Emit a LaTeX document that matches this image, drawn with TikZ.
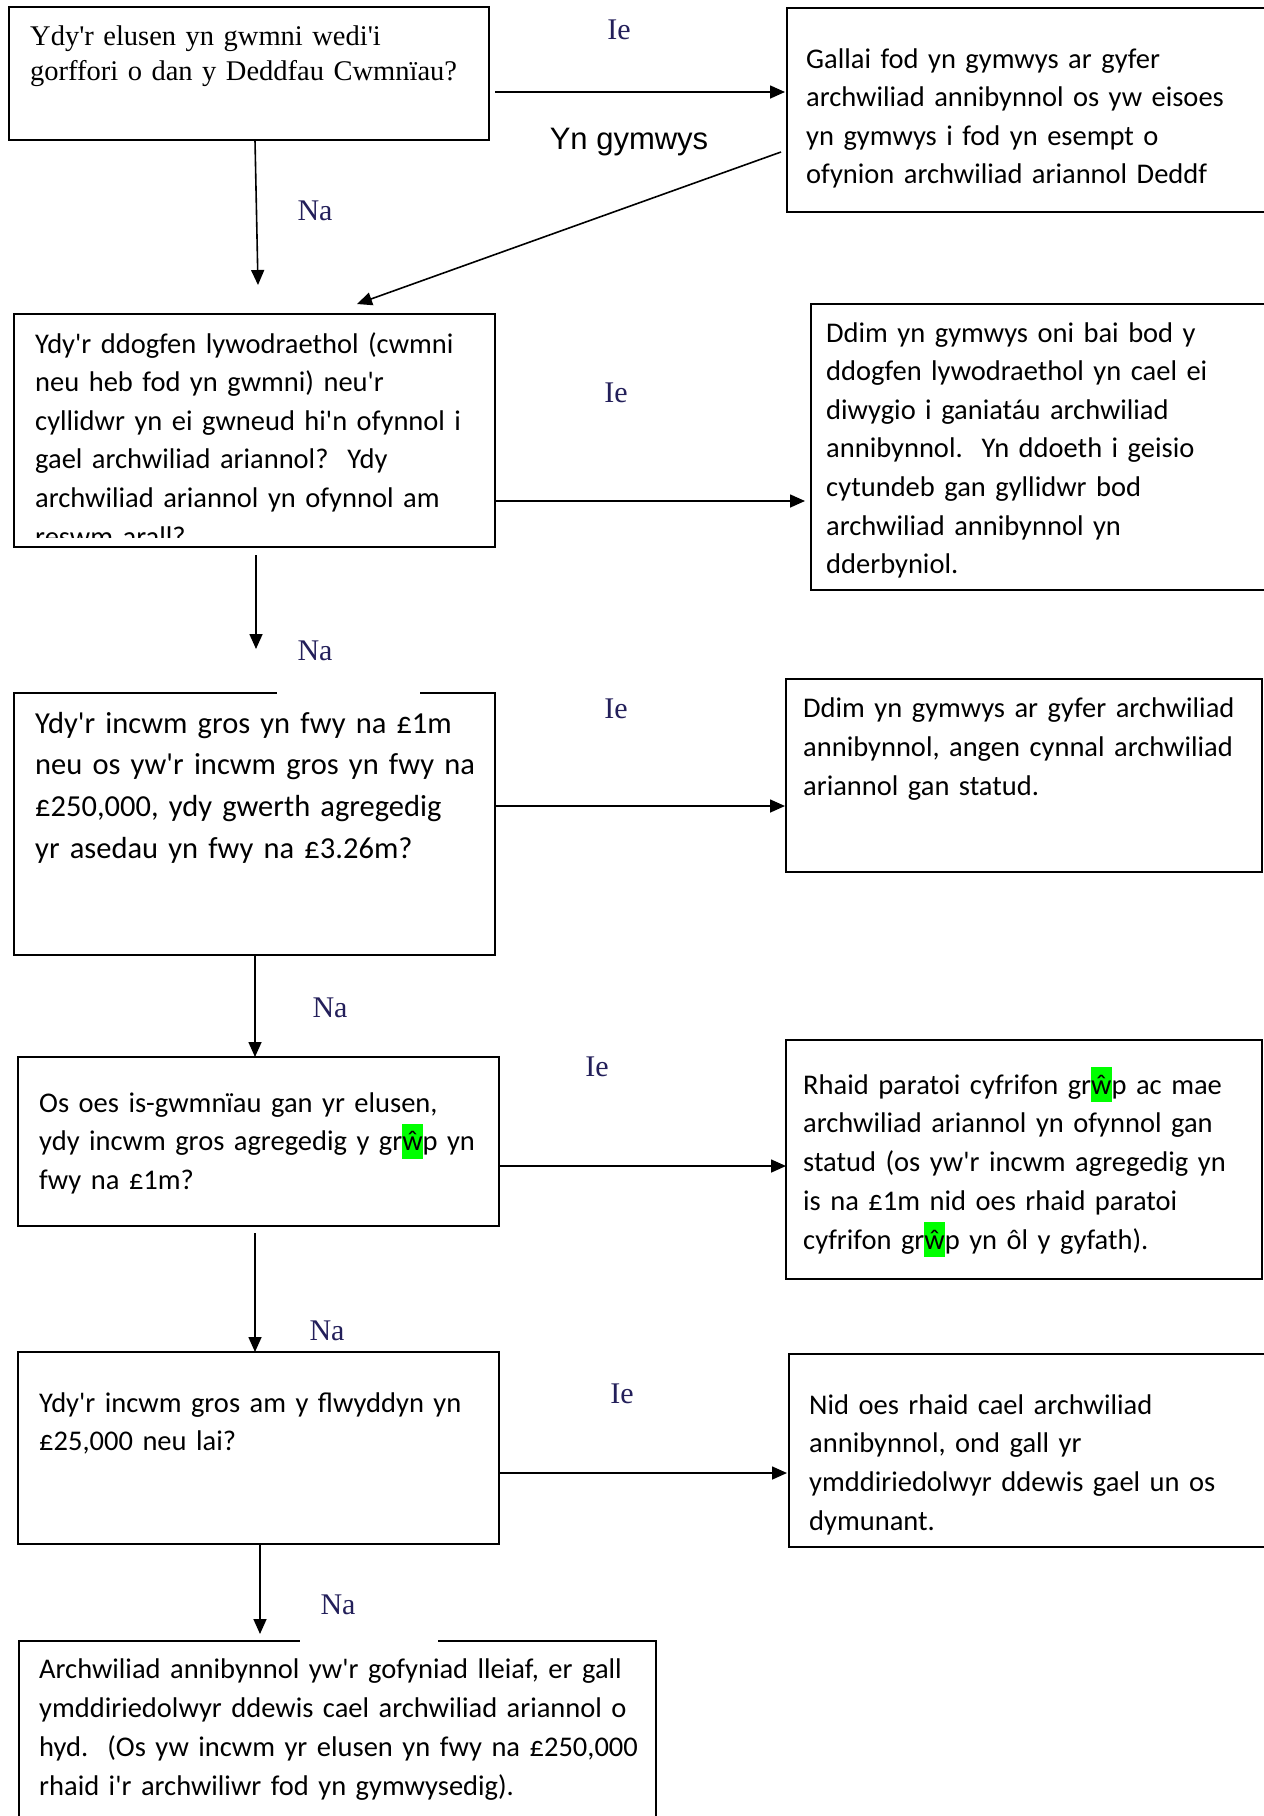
\documentclass[tikz,border=0pt]{standalone}
\usepackage{fontspec}
\setmainfont{Carlito}[Ligatures=TeXOff]
\newfontfamily\tms{Liberation Serif}[Ligatures=TeXOff]
\newfontfamily\ari{Liberation Sans}[Ligatures=TeXOff]
\usetikzlibrary{arrows.meta}
\definecolor{navy}{RGB}{35,31,90}
\definecolor{hlgreen}{RGB}{0,255,0}
\newcommand{\hlw}{{\setlength{\fboxsep}{0pt}\colorbox{hlgreen}{\rule[-8pt]{0pt}{35pt}ŵ}}}
\begin{document}
\begin{tikzpicture}[x=1pt,y=-1pt,
  box/.style={draw, line width=1.8pt, anchor=north west, inner sep=0pt, outer sep=0pt},
  txt/.style={anchor=base west, inner sep=0pt, text width=760pt, align=left, font=\fontsize{28.5}{38.6}\selectfont},
  lab/.style={font=\tms\fontsize{30}{30}\selectfont, text=navy, inner sep=0pt},
  arr/.style={draw, line width=1.6pt, -{Triangle[length=15pt,width=13pt]}}]
\useasboundingbox (0,0) rectangle (1264,1816);
\fill[white] (0,0) rectangle (1264,1816);
\clip (0,0) rectangle (1264,1816);

% boxes
\node[box, minimum width=480pt, minimum height=133pt] (A) at (9,7) {};
\node[box, minimum width=600pt, minimum height=204pt] (B) at (787,8) {};
\node[box, minimum width=481pt, minimum height=233pt] (C) at (14,314) {};
\node[box, minimum width=600pt, minimum height=286pt] (D) at (811,304) {};
\node[box, minimum width=481pt, minimum height=262pt] (E) at (14,693) {};
\node[box, minimum width=476pt, minimum height=193pt] (F) at (786,679) {};
\node[box, minimum width=481pt, minimum height=169pt] (G) at (18,1057) {};
\node[box, minimum width=476pt, minimum height=239pt] (H) at (786,1040) {};
\node[box, minimum width=481pt, minimum height=192pt] (I) at (18,1352) {};
\node[box, minimum width=600pt, minimum height=193pt] (J) at (789,1354) {};
\node[box, minimum width=637pt, minimum height=300pt] (K) at (19,1641) {};

% gaps in top borders
\draw[white, line width=3pt] (277,693) -- (420,693);
\draw[white, line width=3pt] (300,1641) -- (438,1641);

% texts
\node[txt, font=\tms\fontsize{28.5}{35}\selectfont] (tA) at (30,45)
  {Ydy'r elusen yn gwmni wedi'i\\gorffori o dan y Deddfau Cwmnïau?};
\node[txt] (tB) at (806,68)
  {Gallai fod yn gymwys ar gyfer\\archwiliad annibynnol os yw eisoes\\yn gymwys i fod yn esempt o\\ofynion archwiliad ariannol Deddf};
\begin{scope}
\clip (14,314) rectangle (495,537);
\node[txt] (tC) at (35,353)
  {Ydy'r ddogfen lywodraethol (cwmni\\neu heb fod yn gwmni) neu'r\\cyllidwr yn ei gwneud hi'n ofynnol i\\gael archwiliad ariannol?\ \ Ydy\\archwiliad ariannol yn ofynnol am\\reswm arall?};
\end{scope}
\node[txt] (tD) at (826,342)
  {Ddim yn gymwys oni bai bod y\\ddogfen lywodraethol yn cael ei\\diwygio i ganiatáu archwiliad\\annibynnol.\ \ Yn ddoeth i geisio\\cytundeb gan gyllidwr bod\\archwiliad annibynnol yn\\dderbyniol.};
\node[txt, font=\fontsize{30.5}{41.7}\selectfont] (tE) at (35,733)
  {Ydy'r incwm gros yn fwy na £1m\\neu os yw'r incwm gros yn fwy na\\£250,000, ydy gwerth agregedig\\yr asedau yn fwy na £3.26m?};
\node[txt, font=\fontsize{28.5}{39}\selectfont] (tF) at (803,717)
  {Ddim yn gymwys ar gyfer archwiliad\\annibynnol, angen cynnal archwiliad\\ariannol gan statud.};
\node[txt] (tG) at (39,1112)
  {Os oes is-gwmnïau gan yr elusen,\\ydy incwm gros agregedig y gr\hlw p yn\\fwy na £1m?};
\node[txt, font=\fontsize{28.5}{38.8}\selectfont] (tH) at (803,1094)
  {Rhaid paratoi cyfrifon gr\hlw p ac mae\\archwiliad ariannol yn ofynnol gan\\statud (os yw'r incwm agregedig yn\\is na £1m nid oes rhaid paratoi\\cyfrifon gr\hlw p yn ôl y gyfath).};
\node[txt] (tI) at (39,1412)
  {Ydy'r incwm gros am y flwyddyn yn\\£25,000 neu lai?};
\node[txt, font=\fontsize{28.5}{38.7}\selectfont] (tJ) at (809,1414)
  {Nid oes rhaid cael archwiliad\\annibynnol, ond gall yr\\ymddiriedolwyr ddewis gael un os\\dymunant.};
\node[txt, font=\fontsize{28.5}{39}\selectfont] (tK) at (39,1678)
  {Archwiliad annibynnol yw'r gofyniad lleiaf, er gall\\ymddiriedolwyr ddewis cael archwiliad ariannol o\\hyd.\ \ (Os yw incwm yr elusen yn fwy na £250,000\\rhaid i'r archwiliwr fod yn gymwysedig).};

% labels
\node[lab] (ie1) at (619,30) {Ie};
\node[inner sep=0pt, font=\ari\fontsize{31}{31}\selectfont] (yg) at (629,142.5) {Yn gymwys};
\node[lab] (na1) at (315,211) {Na};
\node[lab] (ie2) at (616,393) {Ie};
\node[lab] (na2) at (315,651) {Na};
\node[lab] (ie3) at (616,709) {Ie};
\node[lab] (na3) at (330,1008) {Na};
\node[lab] (ie4) at (597,1067) {Ie};
\node[lab] (na4) at (327,1331) {Na};
\node[lab] (ie5) at (622,1394) {Ie};
\node[lab] (na5) at (338,1605) {Na};

% connectors
\draw[arr] ([shift={(6,85)}]A.north east) -- ([shift={(-2,84)}]B.north west);
\draw[arr] ([shift={(-6,144)}]B.north west) -- ([shift={(343,-10)}]C.north west);
\draw[arr] ([shift={(246,0)}]A.south west) -- ([shift={(244,-29)}]C.north west);
\draw[arr] ([shift={(0,187)}]C.north east) -- ([shift={(-6,197)}]D.north west);
\draw[arr] ([shift={(242,8)}]C.south west) -- ([shift={(242,-44)}]E.north west);
\draw[arr] ([shift={(0,113)}]E.north east) -- ([shift={(-1,127)}]F.north west);
\draw[arr] ([shift={(241,0)}]E.south west) -- ([shift={(237,0)}]G.north west);
\draw[arr] ([shift={(0,109)}]G.north east) -- ([shift={(0,126)}]H.north west);
\draw[arr] ([shift={(237,7)}]G.south west) -- ([shift={(237,0)}]I.north west);
\draw[arr] ([shift={(0,121)}]I.north east) -- ([shift={(-2,119)}]J.north west);
\draw[arr] ([shift={(242,0)}]I.south west) -- ([shift={(241,-7)}]K.north west);
\end{tikzpicture}
\end{document}
